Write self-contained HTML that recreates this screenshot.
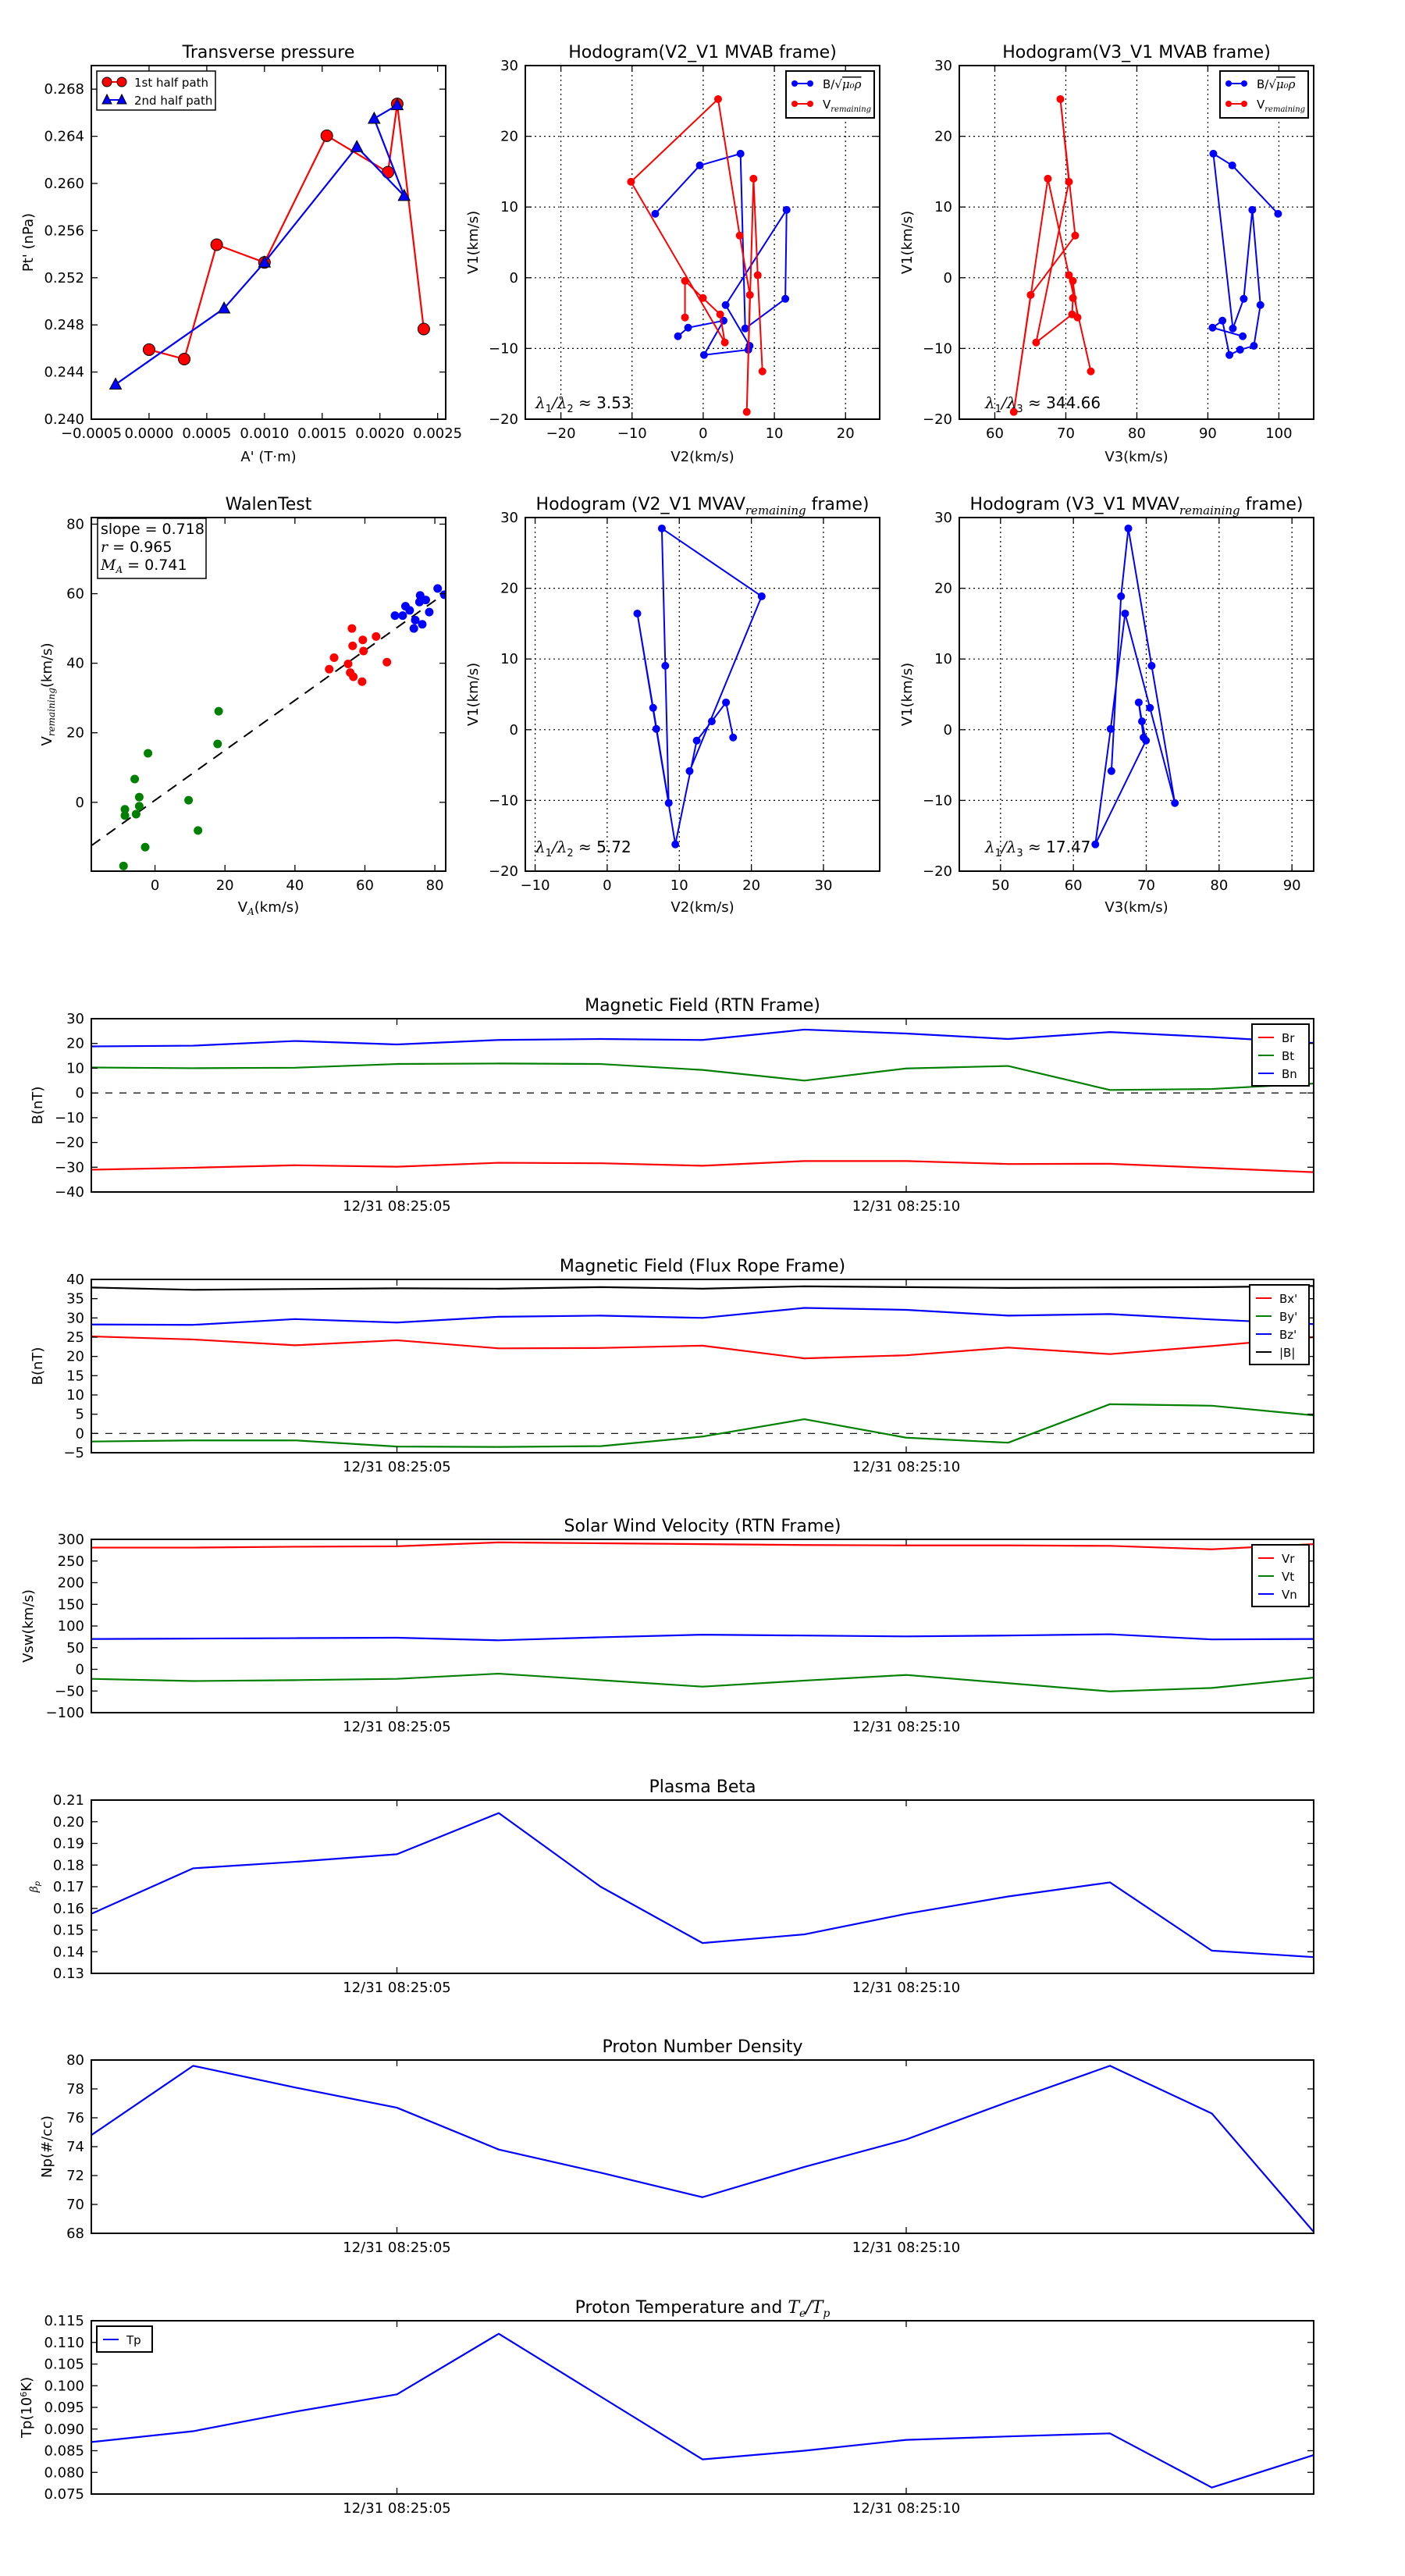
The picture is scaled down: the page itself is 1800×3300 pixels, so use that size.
<!DOCTYPE html>
<html><head><meta charset="utf-8">
<style>
html,body{margin:0;padding:0;background:#fff;}
svg{display:block;font-family:"DejaVu Sans","Liberation Sans",sans-serif;}
</style></head>
<body>
<svg id="fig" width="1800" height="3300" viewBox="0 0 1800 3300" xmlns="http://www.w3.org/2000/svg"></svg>
<script>
// ---------- data ----------
const tpRedA=[0.0,0.000305,0.000586,0.001,0.00154,0.00207,0.00215,0.00238];
const tpRedP=[0.2459,0.2451,0.2548,0.2533,0.26405,0.26095,0.26675,0.24765];
const tpBlueA=[-0.00029,0.00065,0.001,0.0018,0.00221,0.00195,0.00215];
const tpBlueP=[0.24295,0.2494,0.2533,0.2631,0.25895,0.2655,0.26665];

const mvabBV2=[-6.74,-0.48,5.24,5.90,11.54,11.72,3.15,6.52,6.34,0.11,2.86,-2.12,-3.55];
const mvabBV1=[9.04,15.88,17.54,-7.17,-2.98,9.60,-3.86,-9.63,-10.18,-10.92,-6.07,-7.06,-8.27];
const mvabBV3=[99.89,93.44,90.77,93.52,95.05,96.26,97.40,96.48,94.54,93.04,92.05,90.66,94.91];
const mvabVV2=[-2.56,-2.56,-0.04,2.38,3.04,-10.15,2.09,5.13,6.56,6.12,7.07,7.66,8.32];
const mvabVV1=[-5.62,-0.44,-2.87,-5.18,-9.15,13.57,25.26,5.96,-2.43,-18.97,14.01,0.37,-13.24];
const mvabVV3=[71.65,70.99,71.0,70.88,65.82,70.44,69.23,71.32,65.05,62.67,67.47,70.44,73.52];

const mvavV2=[11.43,21.43,7.58,8.06,8.53,6.37,4.18,6.81,9.45,12.42,14.51,16.48,17.47];
const mvavV1=[-5.85,18.86,28.46,9.04,-10.37,3.09,16.43,0.11,-16.21,-1.54,1.18,3.86,-1.10];
const mvavV3=[65.22,66.54,67.54,70.74,73.93,70.51,67.10,65.11,63.01,69.96,69.41,68.97,69.63];

const walenGreenX=[18.2,17.9,-2.0,-5.8,-4.5,-4.5,-8.6,-8.6,-5.4,9.6,12.3,-2.8,-9.0];
const walenGreenY=[26.2,16.8,14.1,6.7,1.5,-1.1,-2.0,-3.8,-3.4,0.6,-8.1,-12.9,-18.3];
const walenRedX=[56.3,56.5,59.4,59.6,63.2,51.2,49.8,55.2,55.8,56.7,59.2,66.3];
const walenRedY=[50.0,45.0,46.7,43.5,47.7,41.6,38.3,39.8,37.3,36.1,34.7,40.3];
const walenBlueX=[68.6,70.8,71.6,72.8,74.4,74.0,76.4,78.4,75.6,75.8,77.4,80.8,82.7];
const walenBlueY=[53.7,53.7,56.4,55.2,52.4,50.0,51.2,54.7,57.6,59.5,58.2,61.5,59.7];
const walenSlope=0.718;
const walenIntercept=0.6;

const timeLabels=["12/31 08:25:05","12/31 08:25:10"];
const timeTickIdx=[3,8];
const Br=[-31,-30.2,-29.2,-29.8,-28.2,-28.4,-29.4,-27.5,-27.5,-28.7,-28.6,-30.3,-32];
const Bt=[10.3,10,10.2,11.7,11.9,11.7,9.3,5,9.9,10.9,1.2,1.6,3.8];
const Bn=[18.8,19.1,21,19.6,21.4,21.8,21.4,25.6,24,21.8,24.6,22.6,20.2];
const Bx=[25.2,24.4,22.9,24.2,22.1,22.2,22.8,19.5,20.3,22.3,20.6,22.7,25];
const By=[-2.1,-1.8,-1.8,-3.4,-3.5,-3.3,-0.8,3.7,-1.1,-2.4,7.6,7.2,4.7];
const Bz=[28.3,28.2,29.7,28.8,30.3,30.6,30,32.6,32.1,30.6,31,29.6,28.4];
const Bmag=[37.9,37.3,37.5,37.7,37.6,38,37.6,38.2,38,37.8,37.9,38,38.3];
const Vr=[281,281,283,284,293,291,289,287,286,286,285,277,289];
const Vt=[-22,-27,-25,-22,-10,-25,-40,-26,-13,-32,-51,-43,-19];
const Vn=[70,71,72,73,67,74,80,78,76,78,81,69,70];
const beta=[0.1575,0.1785,0.1815,0.185,0.204,0.170,0.144,0.148,0.1575,0.1655,0.172,0.1405,0.1375];
const Np=[74.8,79.6,78.1,76.7,73.8,72.2,70.5,72.6,74.5,77.1,79.6,76.3,68.1];
const Tp=[0.087,0.0895,0.094,0.098,0.112,0.0975,0.083,0.085,0.0875,0.0883,0.089,0.0765,0.084];

// ---------- helpers ----------
const NS='http://www.w3.org/2000/svg';
const svg=document.getElementById('fig');
function mk(tag,attrs,parent){const e=document.createElementNS(NS,tag);for(const k in attrs)e.setAttribute(k,attrs[k]);(parent||svg).appendChild(e);return e;}
function range(a,b,s){const r=[];for(let v=a;v<=b+s*1e-6;v+=s)r.push(+v.toFixed(6));return r;}
function minus(s){return String(s).replace('-','\u2212');}

function axes(name,x0,y0,w,h,xlim,ylim,xt,yt,xf,yf,grid){
  const g=mk('g',{});
  
  
  const sx=v=>x0+(v-xlim[0])/(xlim[1]-xlim[0])*w;
  const sy=v=>y0+h-(v-ylim[0])/(ylim[1]-ylim[0])*h;
  if(grid){
    xt.forEach(v=>{const l=mk('line',{x1:sx(v),x2:sx(v),y1:y0,y2:y0+h,stroke:'#000','stroke-width':1.2,'stroke-dasharray':'2,4'},g);});
    yt.forEach(v=>{const l=mk('line',{x1:x0,x2:x0+w,y1:sy(v),y2:sy(v),stroke:'#000','stroke-width':1.2,'stroke-dasharray':'2,4'},g);});
  }
  const plot=mk('g',{},g);
  
  
  const cp='cp'+name;
  const defs=mk('clipPath',{id:cp},g);
  mk('rect',{x:x0,y:y0,width:w,height:h},defs);
  plot.setAttribute('clip-path','url(#'+cp+')');
  xt.forEach((v,i)=>{
    const X=sx(v);
    mk('line',{x1:X,x2:X,y1:y0+h,y2:y0+h-8,stroke:'#000','stroke-width':1.3},g);
    mk('line',{x1:X,x2:X,y1:y0,y2:y0+8,stroke:'#000','stroke-width':1.3},g);
    const t=mk('text',{x:X,y:y0+h+24,'font-size':18,'text-anchor':'middle'},g);
    t.textContent=xf(v,i);
    
    
  });
  yt.forEach(v=>{
    const Y=sy(v);
    mk('line',{x1:x0,x2:x0+8,y1:Y,y2:Y,stroke:'#000','stroke-width':1.3},g);
    mk('line',{x1:x0+w,x2:x0+w-8,y1:Y,y2:Y,stroke:'#000','stroke-width':1.3},g);
    const t=mk('text',{x:x0-9,y:Y+6,'font-size':18,'text-anchor':'end'},g);
    t.textContent=yf(v);
    
    
  });
  const fr=mk('rect',{x:x0,y:y0,width:w,height:h,fill:'none',stroke:'#000','stroke-width':2},g);
  
  
  return {g,plot,sx,sy,x0,y0,w,h};
}
function title(ax,txt,sub,after){
  const t=mk('text',{x:ax.x0+ax.w/2,y:ax.y0-10,'font-size':22,'text-anchor':'middle'},ax.g);
  
  
  t.appendChild(document.createTextNode(txt));
  if(sub){const s=mk('tspan',{'font-size':15,'font-style':'italic','font-family':'DejaVu Serif, serif',dy:6},t);s.textContent=sub;const a=mk('tspan',{dy:-6},t);a.textContent=after;}
  return t;
}
function xlabel(ax,txt,y){const t=mk('text',{x:ax.x0+ax.w/2,y:y,'font-size':18,'text-anchor':'middle'},ax.g);t.textContent=txt;return t;}
function ylabel(ax,txt,x){const cy=ax.y0+ax.h/2;const t=mk('text',{x:x,y:cy,'font-size':18,'text-anchor':'middle',transform:'rotate(-90 '+x+' '+cy+')'},ax.g);t.textContent=txt;return t;}
function line(ax,xs,ys,color,nm,width,dots){
  const pts=xs.map((x,i)=>ax.sx(x)+','+ax.sy(ys[i])).join(' ');
  const p=mk('polyline',{points:pts,fill:'none',stroke:color,'stroke-width':width||2.2,'stroke-linejoin':'round'},ax.plot);
  
  
  if(dots){xs.forEach((x,i)=>{const c=mk('circle',{cx:ax.sx(x),cy:ax.sy(ys[i]),r:dots,fill:color,stroke:color},ax.plot);});}
  return p;
}
function fmtFix(d){return v=>minus(v.toFixed(d));}

// ---------- Transverse pressure ----------
{
  const ax=axes('transverse-pressure-chart',117,84,454,453,[-0.0005,0.00257],[0.240,0.270],range(-0.0005,0.0025,0.0005),range(0.240,0.268,0.004),v=>minus(v.toFixed(4)),fmtFix(3),false);
  title(ax,'Transverse pressure');
  xlabel(ax,"A' (T\u00b7m)",591);
  ylabel(ax,"Pt' (nPa)",42);
  line(ax,tpRedA,tpRedP,'#ff0000','first-half-path',2.2);
  tpRedA.forEach((a,i)=>{const c=mk('circle',{cx:ax.sx(a),cy:ax.sy(tpRedP[i]),r:7.5,fill:'#ff0000',stroke:'#000','stroke-width':1},ax.plot);});
  line(ax,tpBlueA,tpBlueP,'#0000ff','second-half-path',2.2);
  tpBlueA.forEach((a,i)=>{const X=ax.sx(a),Y=ax.sy(tpBlueP[i]);const c=mk('polygon',{points:(X)+','+(Y-8)+' '+(X-7.5)+','+(Y+6)+' '+(X+7.5)+','+(Y+6),fill:'#0000ff',stroke:'#000','stroke-width':1},ax.plot);});
  const lg=mk('g',{},ax.g);
  mk('rect',{x:124,y:91,width:152,height:50,fill:'#fff',stroke:'#000','stroke-width':1.5},lg);
  mk('line',{x1:135,x2:158,y1:105,y2:105,stroke:'#ff0000','stroke-width':2},lg);
  mk('circle',{cx:137,cy:105,r:6,fill:'#f00',stroke:'#000'},lg);mk('circle',{cx:156,cy:105,r:6,fill:'#f00',stroke:'#000'},lg);
  mk('line',{x1:135,x2:158,y1:128,y2:128,stroke:'#0000ff','stroke-width':2},lg);
  mk('polygon',{points:'137,121 131,133 143,133',fill:'#00f',stroke:'#000'},lg);mk('polygon',{points:'156,121 150,133 162,133',fill:'#00f',stroke:'#000'},lg);
  let t=mk('text',{x:172,y:111,'font-size':15},lg);t.textContent='1st half path';
  t=mk('text',{x:172,y:134,'font-size':15},lg);t.textContent='2nd half path';
}

function hodoLegend(ax,x,y){
  const lg=mk('g',{},ax.g);
  mk('rect',{x:x,y:y,width:113,height:60,fill:'#fff',stroke:'#000','stroke-width':2},lg);
  mk('line',{x1:x+11,x2:x+31,y1:y+16,y2:y+16,stroke:'#00f','stroke-width':2},lg);
  mk('circle',{cx:x+11,cy:y+16,r:4,fill:'#00f'},lg);mk('circle',{cx:x+31,cy:y+16,r:4,fill:'#00f'},lg);
  mk('line',{x1:x+11,x2:x+31,y1:y+42,y2:y+42,stroke:'#f00','stroke-width':2},lg);
  mk('circle',{cx:x+11,cy:y+42,r:4,fill:'#f00'},lg);mk('circle',{cx:x+31,cy:y+42,r:4,fill:'#f00'},lg);
  let t=mk('text',{x:x+47,y:y+22,'font-size':15},lg);
  t.appendChild(document.createTextNode('B/\u221a'));let s=mk('tspan',{'font-style':'italic','font-family':'DejaVu Serif, serif','text-decoration':'overline'},t);s.textContent='\u03bc\u2080\u03c1';
  t=mk('text',{x:x+47,y:y+48,'font-size':15},lg);
  t.appendChild(document.createTextNode('V'));s=mk('tspan',{'font-size':10,'font-style':'italic','font-family':'DejaVu Serif, serif',dy:4},t);s.textContent='remaining';
}
function lam(ax,x,y,a,b,val){
  const t=mk('text',{x:x,y:y,'font-size':20},ax.g);
  const s1=mk('tspan',{'font-family':'DejaVu Serif, serif','font-style':'italic'},t);s1.textContent='\u03bb';
  const s2=mk('tspan',{'font-size':13,dy:5},t);s2.textContent=a;
  const s3=mk('tspan',{dy:-5,'font-family':'DejaVu Serif, serif','font-style':'italic'},t);s3.textContent='/\u03bb';
  const s4=mk('tspan',{'font-size':13,dy:5},t);s4.textContent=b;
  const s5=mk('tspan',{dy:-5},t);s5.textContent=' \u2248 '+val;
}
const intf=v=>minus(v);
// ---------- MVAB V2 ----------
{
  const ax=axes('hodogram-v2-mvab',673,84,454,453,[-25,24.8],[-20,30],range(-20,20,10),range(-20,30,10),intf,intf,true);
  title(ax,'Hodogram(V2_V1 MVAB frame)');
  xlabel(ax,'V2(km/s)',591);ylabel(ax,'V1(km/s)',612);
  line(ax,mvabBV2,mvabBV1,'#0000ff','b-hodogram-line',2,4.5);
  line(ax,mvabVV2,mvabVV1,'#ff0000','v-hodogram-line',2,4.5);
  hodoLegend(ax,1007,91);lam(ax,686,523,'1','2','3.53');
}
// ---------- MVAB V3 ----------
{
  const ax=axes('hodogram-v3-mvab',1229,84,454,453,[55,104.9],[-20,30],range(60,100,10),range(-20,30,10),intf,intf,true);
  title(ax,'Hodogram(V3_V1 MVAB frame)');
  xlabel(ax,'V3(km/s)',591);ylabel(ax,'V1(km/s)',1168);
  line(ax,mvabBV3,mvabBV1,'#0000ff','b-hodogram-line',2,4.5);
  line(ax,mvabVV3,mvabVV1,'#ff0000','v-hodogram-line',2,4.5);
  hodoLegend(ax,1563,91);lam(ax,1262,523,'1','3','344.66');
}
// ---------- Walen ----------
{
  const ax=axes('walen-test-chart',117,663,454,453,[-18.2,83.1],[-19.8,81.9],range(0,80,20),range(0,80,20),intf,intf,false);
  title(ax,'WalenTest');
  const xl=xlabel(ax,'V',1168);const s=mk('tspan',{'font-size':12,'font-style':'italic','font-family':'DejaVu Serif, serif',dy:4},xl);s.textContent='A';const s2=mk('tspan',{dy:-4},xl);s2.textContent='(km/s)';
  const yl=ylabel(ax,'V',66);const s3=mk('tspan',{'font-size':12,'font-style':'italic','font-family':'DejaVu Serif, serif',dy:4},yl);s3.textContent='remaining';const s4=mk('tspan',{dy:-4},yl);s4.textContent='(km/s)';
  const fx=[-18.2,83.1];
  const fit=mk('line',{x1:ax.sx(fx[0]),y1:ax.sy(walenSlope*fx[0]+walenIntercept),x2:ax.sx(fx[1]),y2:ax.sy(walenSlope*fx[1]+walenIntercept),stroke:'#000','stroke-width':2,'stroke-dasharray':'14,10'},ax.plot);
  
  [[walenGreenX,walenGreenY,'#008000'],[walenRedX,walenRedY,'#ff0000'],[walenBlueX,walenBlueY,'#0000ff']].forEach(([X,Y,c])=>{
    X.forEach((x,i)=>{const d=mk('circle',{cx:ax.sx(x),cy:ax.sy(Y[i]),r:5.5,fill:c},ax.plot);});
  });
  const b=mk('g',{},ax.g);
  mk('rect',{x:125,y:664,width:139,height:77,fill:'#fff',stroke:'#000','stroke-width':1.5},b);
  let t=mk('text',{x:129,y:684,'font-size':19},b);t.textContent='slope = 0.718';
  t=mk('text',{x:129,y:707,'font-size':19},b);const i1=mk('tspan',{'font-style':'italic','font-family':'DejaVu Serif, serif'},t);i1.textContent='r';t.appendChild(document.createTextNode(' = 0.965'));
  t=mk('text',{x:129,y:730,'font-size':19},b);const i2=mk('tspan',{'font-style':'italic','font-family':'DejaVu Serif, serif'},t);i2.textContent='M';const i3=mk('tspan',{'font-size':12,'font-style':'italic','font-family':'DejaVu Serif, serif',dy:4},t);i3.textContent='A';const i4=mk('tspan',{dy:-4},t);i4.textContent=' = 0.741';
}
// ---------- MVAV V2 ----------
{
  const ax=axes('hodogram-v2-mvav',673,663,454,453,[-11.36,37.8],[-20,30],range(-10,30,10),range(-20,30,10),intf,intf,true);
  title(ax,'Hodogram (V2_V1 MVAV','remaining',' frame)');
  xlabel(ax,'V2(km/s)',1168);ylabel(ax,'V1(km/s)',612);
  line(ax,mvavV2,mvavV1,'#0000ff','v-hodogram-line',2,4.5);
  lam(ax,686,1092,'1','2','5.72');
}
// ---------- MVAV V3 ----------
{
  const ax=axes('hodogram-v3-mvav',1229,663,454,453,[44.34,92.98],[-20,30],range(50,90,10),range(-20,30,10),intf,intf,true);
  title(ax,'Hodogram (V3_V1 MVAV','remaining',' frame)');
  xlabel(ax,'V3(km/s)',1168);ylabel(ax,'V1(km/s)',1168);
  line(ax,mvavV3,mvavV1,'#0000ff','v-hodogram-line',2,4.5);
  lam(ax,1262,1092,'1','3','17.47');
}

// ---------- time series ----------
const idx=Br.map((_,i)=>i);
function tsAxes(name,top,ylim,yt,yf){
  return axes(name,117,top,1566,222,[0,12],ylim,timeTickIdx,yt,(v,i)=>timeLabels[i],yf,false);
}
function tsLegend(ax,x,y,w,entries){
  const lg=mk('g',{},ax.g);
  mk('rect',{x:x,y:y,width:w,height:entries.length*23+10,fill:'#fff',stroke:'#000','stroke-width':2},lg);
  entries.forEach(([lab,c],i)=>{
    const yy=y+17+i*23;
    mk('line',{x1:x+8,x2:x+28,y1:yy,y2:yy,stroke:c,'stroke-width':2},lg);
    const t=mk('text',{x:x+38,y:yy+6,'font-size':15},lg);t.textContent=lab;
  });
}
function zeroLine(ax){const l=mk('line',{x1:ax.x0,x2:ax.x0+ax.w,y1:ax.sy(0),y2:ax.sy(0),stroke:'#000','stroke-width':1.2,'stroke-dasharray':'9,9'},ax.plot);}
{
  const ax=tsAxes('magnetic-field-rtn-chart',1305,[-40,30],range(-40,30,10),intf);
  title(ax,'Magnetic Field (RTN Frame)');ylabel(ax,'B(nT)',54);zeroLine(ax);
  line(ax,idx,Br,'#ff0000','br-line');line(ax,idx,Bt,'#008000','bt-line');line(ax,idx,Bn,'#0000ff','bn-line');
  tsLegend(ax,1604,1312,73,[['Br','#f00'],['Bt','#008000'],['Bn','#00f']]);
}
{
  const ax=tsAxes('magnetic-field-flux-rope-chart',1639,[-5,40],range(-5,40,5),intf);
  title(ax,'Magnetic Field (Flux Rope Frame)');ylabel(ax,'B(nT)',54);zeroLine(ax);
  line(ax,idx,Bx,'#ff0000','bx-line');line(ax,idx,By,'#008000','by-line');line(ax,idx,Bz,'#0000ff','bz-line');line(ax,idx,Bmag,'#000000','bmag-line');
  tsLegend(ax,1601,1646,76,[["Bx'",'#f00'],["By'",'#008000'],["Bz'",'#00f'],['|B|','#000']]);
}
{
  const ax=tsAxes('solar-wind-velocity-chart',1972,[-100,300],range(-100,300,50),intf);
  title(ax,'Solar Wind Velocity (RTN Frame)');ylabel(ax,'Vsw(km/s)',42);
  line(ax,idx,Vr,'#ff0000','vr-line');line(ax,idx,Vt,'#008000','vt-line');line(ax,idx,Vn,'#0000ff','vn-line');
  tsLegend(ax,1604,1979,73,[['Vr','#f00'],['Vt','#008000'],['Vn','#00f']]);
}
{
  const ax=tsAxes('plasma-beta-chart',2306,[0.13,0.21],range(0.13,0.21,0.01),fmtFix(2));
  title(ax,'Plasma Beta');
  const yl=ylabel(ax,'',48);const s=mk('tspan',{'font-style':'italic','font-family':'DejaVu Serif, serif','font-size':14},yl);s.textContent='\u03b2';const s2=mk('tspan',{'font-size':10,'font-style':'italic',dy:3},yl);s2.textContent='p';
  line(ax,idx,beta,'#0000ff','beta-line');
}
{
  const ax=tsAxes('proton-density-chart',2639,[68,80],range(68,80,2),intf);
  title(ax,'Proton Number Density');ylabel(ax,'Np(#/cc)',66);
  line(ax,idx,Np,'#0000ff','np-line');
}
{
  const ax=tsAxes('proton-temperature-chart',2973,[0.075,0.115],range(0.075,0.115,0.005),fmtFix(3));
  const t=title(ax,'Proton Temperature and ');
  const a=mk('tspan',{'font-style':'italic','font-family':'DejaVu Serif, serif'},t);a.textContent='T';
  const b=mk('tspan',{'font-size':14,'font-style':'italic','font-family':'DejaVu Serif, serif',dy:5},t);b.textContent='e';
  const c=mk('tspan',{dy:-5,'font-style':'italic','font-family':'DejaVu Serif, serif'},t);c.textContent='/T';
  const d=mk('tspan',{'font-size':14,'font-style':'italic','font-family':'DejaVu Serif, serif',dy:5},t);d.textContent='p';
  const yl=ylabel(ax,'Tp(10',40);const e=mk('tspan',{'font-size':11,dy:-6},yl);e.textContent='6';const f=mk('tspan',{dy:6},yl);f.textContent='K)';
  line(ax,idx,Tp,'#0000ff','tp-line');
  tsLegend(ax,124,2980,71,[['Tp','#00f']]);
}
</script>
</body></html>
